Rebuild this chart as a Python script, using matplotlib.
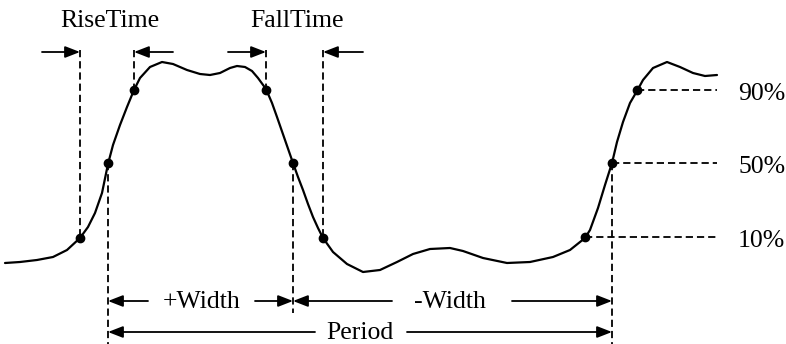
import numpy as np
import matplotlib
matplotlib.use('Agg')
import matplotlib.pyplot as plt

plt.rcParams.update({
    "font.family": "serif",
    "font.serif": ["Liberation Serif", "DejaVu Serif"],
    "font.size": 18.5,
})

# waveform trace (pixel units, y grows downward)
wave_x = [5, 20, 37, 53, 67, 80, 88, 95, 102, 108, 113, 120, 127, 134, 140,
          150, 162, 173, 187, 200, 210, 220, 230, 237, 245, 252, 258, 266,
          272, 277, 285, 293, 298, 303, 308, 313, 318, 323, 333, 347, 363,
          380, 397, 413, 430, 450, 463, 483, 507, 530, 553, 570, 585, 590,
          598, 605, 612, 617, 623, 630, 637, 643, 653, 667, 680, 693, 705, 717]
wave_y = [263, 262, 260, 257, 250, 238, 227, 213, 193, 164, 145, 125, 107, 90, 78,
          67, 62, 64, 70, 74, 75, 73, 68, 66, 67, 71, 78, 89,
          103, 117, 140, 163, 177, 190, 204, 217, 228, 238, 252, 264, 272,
          270, 262, 254, 249, 248, 251, 258, 263, 262, 257, 250, 238, 230,
          208, 185, 163, 142, 122, 103, 91, 80, 68, 62, 67, 73, 76, 75]

# measured points on the edges
dot_x = [80, 108, 134, 266, 293, 323, 585, 612, 637]
dot_y = [238, 163, 90, 90, 163, 238, 237, 163, 90]

# reference levels on the right
level_labels = ['90%', '50%', '10%']
level_y = [90, 163, 237]
level_start = [637, 612, 585]
level_end = 717

# vertical markers: x, top, bottom
vline_x = [80, 134, 266, 323, 108, 293, 612]
vline_top = [50, 50, 50, 50, 163, 163, 163]
vline_bot = [238, 90, 90, 238, 344, 313, 344]

# arrows: tail x, head x, y
arrow_tail = [42, 173, 228, 363, 148, 255, 392, 512, 315, 407]
arrow_head = [80, 134, 266, 323, 108, 293, 293, 612, 108, 612]
arrow_y = [52, 52, 52, 52, 301, 301, 301, 301, 332, 332]

# labels
label_text = ['RiseTime', 'FallTime', '+Width', '-Width', 'Period']
label_x = [110, 297, 202, 450, 360]
label_y = [27, 27, 308, 308, 339]

fig = plt.figure(figsize=(7.86, 3.44), dpi=100)
ax = fig.add_axes([0, 0, 1, 1])
ax.set_xlim(0, 786)
ax.set_ylim(344, 0)
ax.axis('off')

dash = dict(color='black', lw=1.3, linestyle=(0, (4, 2.2)))

for x, t, b in zip(vline_x, vline_top, vline_bot):
    ax.plot([x, x], [t, b], **dash)

for sx, y in zip(level_start, level_y):
    ax.plot([sx, level_end], [y, y], **dash)

ax.plot(wave_x, wave_y, color='black', lw=1.6,
        solid_joinstyle='round', solid_capstyle='round')
ax.plot(dot_x, dot_y, 'o', color='black', markersize=6)

for t, h, y in zip(arrow_tail, arrow_head, arrow_y):
    ax.annotate('', xy=(h, y), xytext=(t, y),
                arrowprops=dict(arrowstyle='-|>,head_length=0.9,head_width=0.35',
                                color='black', lw=1.3, shrinkA=0, shrinkB=0,
                                mutation_scale=10))

for txt, x, y in zip(label_text, label_x, label_y):
    ax.text(x, y, txt, ha='center', va='baseline')

for txt, y in zip(level_labels, level_y):
    ax.text(738, y + 10, txt, ha='left', va='baseline')

fig.savefig('out.png', dpi=100, facecolor='white')
